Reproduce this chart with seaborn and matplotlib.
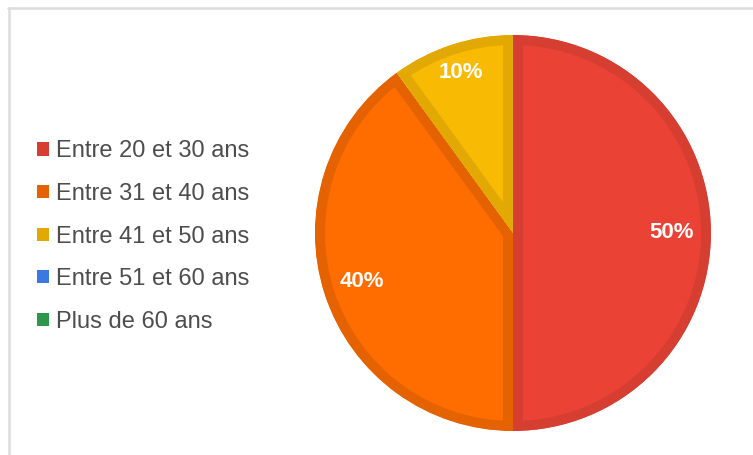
import numpy as np
import matplotlib
matplotlib.use('Agg')
import matplotlib.pyplot as plt
from matplotlib.patches import Patch
from matplotlib.lines import Line2D
import seaborn as sns

# data
categories = ['Entre 20 et 30 ans', 'Entre 31 et 40 ans', 'Entre 41 et 50 ans',
              'Entre 51 et 60 ans', 'Plus de 60 ans']
shares = [50, 40, 10, 0, 0]

fill_colors = ['#EA4335', '#FF6D00', '#F9BA04', '#4285F4', '#34A853']
edge_colors = ['#D63E32', '#E56200', '#E2A804', '#3B78DF', '#2F974B']


def pct_label(p):
    return f'{p:.0f}%' if p > 0.5 else ''


def main():
    sns.set_theme(style='white')
    plt.rcParams['font.family'] = ['Liberation Sans', 'DejaVu Sans']

    fig = plt.figure(figsize=(7.53, 4.55), dpi=100)
    W, H = 753, 455

    # pie axes: centre (513, 233) px, radius 198 px
    cx, cy, r = 513, 233, 198
    ax = fig.add_axes([(cx - r) / W, 1 - (cy + r) / H, 2 * r / W, 2 * r / H])
    wedges, _, autotexts = ax.pie(
        shares, colors=fill_colors, startangle=90, counterclock=False,
        autopct=pct_label, pctdistance=0.8,
        wedgeprops=dict(linewidth=14.4, joinstyle='miter'),
        textprops=dict(color='white', fontsize=16, fontweight='bold'))
    for w, ec, t, s in zip(wedges, edge_colors, autotexts, shares):
        w.set_edgecolor(ec)
        w.set_clip_path(w)
        w.set_clip_on(True)
        # narrow slices get their label pushed a bit further out
        if 0 < s < 20:
            ang = np.deg2rad((w.theta1 + w.theta2) / 2)
            t.set_position((0.85 * np.cos(ang), 0.85 * np.sin(ang)))
    ax.set_xlim(-1, 1)
    ax.set_ylim(-1, 1)
    ax.set_aspect('equal')
    ax.axis('off')

    # legend
    handles = [Patch(facecolor=c, edgecolor='none') for c in edge_colors]
    fig.legend(handles, categories, loc='upper left',
               bbox_to_anchor=(28 / W, 1 - 131 / H), frameon=False,
               fontsize=17, labelcolor='#4d4d4d',
               handlelength=0.48, handleheight=0.48, handletextpad=0.3,
               labelspacing=0.87, borderaxespad=0)

    # light frame (top and left edges visible in the crop)
    frame = dict(color='#DDDDDD', linewidth=1.8, transform=fig.transFigure)
    fig.add_artist(Line2D([8 / W, 1], [1 - 8 / H, 1 - 8 / H], **frame))
    fig.add_artist(Line2D([9 / W, 9 / W], [0, 1 - 8 / H], **frame))

    fig.savefig('out.png', dpi=100)
    plt.close(fig)


if __name__ == '__main__':
    main()
